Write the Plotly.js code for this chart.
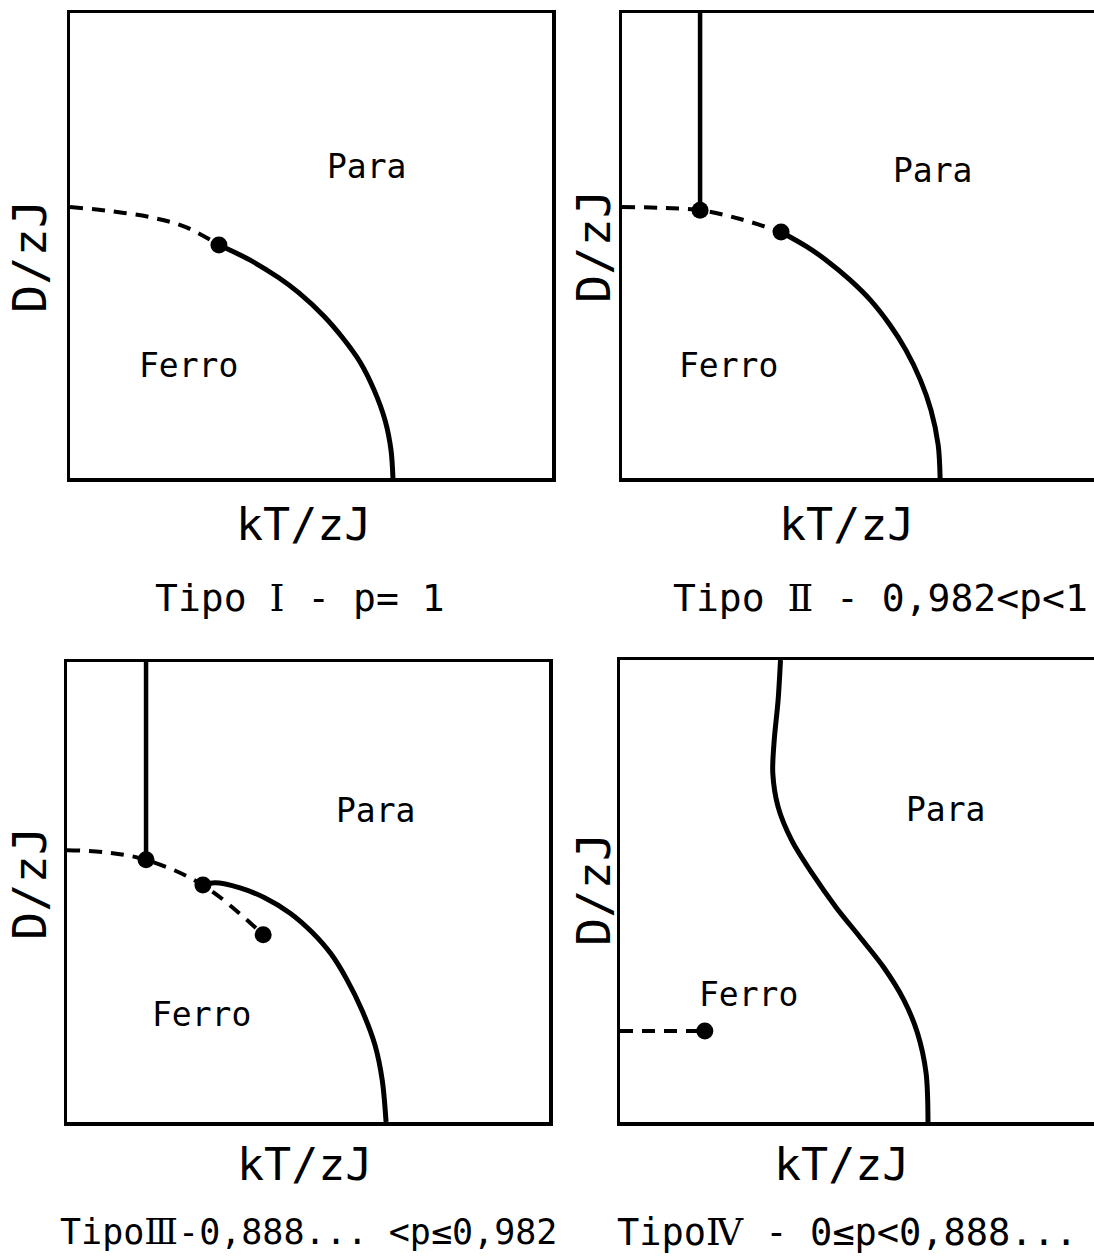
<!DOCTYPE html>
<html>
<head>
<meta charset="utf-8">
<script src="https://cdn.plot.ly/plotly-3.0.1.min.js"></script>
<style>
  html, body { margin: 0; padding: 0; background: #fff; }
  #chart { width: 1094px; height: 1260px; }
</style>
</head>
<body>
<div id="chart"></div>
<script>
// Phase diagrams in reduced units: x = kT/zJ, y = D/zJ (both scaled to the box, 0..1)

// Tipo I  (p = 1)
const t1DashX  = [0.000, 0.083, 0.166, 0.239, 0.309];
const t1DashY  = [0.583, 0.574, 0.561, 0.540, 0.501];
const t1SolidX = [0.309, 0.373, 0.434, 0.475, 0.527, 0.566, 0.602, 0.631, 0.654, 0.666, 0.670];
const t1SolidY = [0.501, 0.469, 0.430, 0.398, 0.348, 0.301, 0.249, 0.189, 0.123, 0.060, 0.000];
const t1PointX = [0.309];
const t1PointY = [0.501];

// Tipo II  (0,982 < p < 1)
const t2VertX  = [0.162, 0.162];
const t2VertY  = [1.000, 0.576];
const t2DashX  = [0.000, 0.079, 0.162, 0.245, 0.330];
const t2DashY  = [0.583, 0.581, 0.576, 0.557, 0.529];
const t2SolidX = [0.330, 0.384, 0.423, 0.473, 0.515, 0.556, 0.589, 0.619, 0.641, 0.656, 0.660];
const t2SolidY = [0.529, 0.497, 0.469, 0.426, 0.383, 0.329, 0.275, 0.211, 0.146, 0.071, 0.000];
const t2PointX = [0.162, 0.330];
const t2PointY = [0.576, 0.529];

// Tipo III  (0,888... < p <= 0,982)
const t3VertX  = [0.164, 0.164];
const t3VertY  = [1.000, 0.570];
const t3DashX  = [0.000, 0.080, 0.164, 0.282, 0.407];
const t3DashY  = [0.591, 0.586, 0.570, 0.515, 0.407];
const t3SolidX = [0.282, 0.307, 0.359, 0.411, 0.463, 0.508, 0.548, 0.581, 0.612, 0.639, 0.654, 0.662];
const t3SolidY = [0.515, 0.520, 0.509, 0.487, 0.454, 0.413, 0.365, 0.309, 0.243, 0.167, 0.091, 0.000];
const t3PointX = [0.164, 0.282, 0.407];
const t3PointY = [0.570, 0.515, 0.407];

// Tipo IV  (0 <= p < 0,888...)
const t4SolidX = [0.333, 0.328, 0.320, 0.317, 0.328, 0.356, 0.398, 0.448, 0.498, 0.547, 0.589, 0.617, 0.635, 0.639];
const t4SolidY = [1.000, 0.913, 0.827, 0.755, 0.682, 0.610, 0.539, 0.465, 0.400, 0.335, 0.264, 0.193, 0.106, 0.000];
const t4DashX  = [0.000, 0.176];
const t4DashY  = [0.197, 0.197];
const t4PointX = [0.176];
const t4PointY = [0.197];

// Text
const regionLabels = ['Para', 'Ferro'];
const xLabel = 'kT/zJ';
const yLabel = 'D/zJ';
const numerals = ['Ⅰ', 'Ⅱ', 'Ⅲ', 'Ⅳ'];
const conditions = [' - p= 1', ' - 0,982<p<1', '-0,888... <p≤0,982', ' - 0≤p<0,888...'];

const INK = '#000';
const MONO = 'DejaVu Sans Mono, monospace';
const SERIF = 'DejaVu Serif, serif';

function solid(x, y, ax, w) {
  return { x, y, xaxis: 'x' + ax, yaxis: 'y' + ax, mode: 'lines', hoverinfo: 'skip',
           line: { color: INK, width: w || 5, shape: 'spline', smoothing: 0.9 } };
}
function dashed(x, y, ax) {
  return { x, y, xaxis: 'x' + ax, yaxis: 'y' + ax, mode: 'lines', hoverinfo: 'skip',
           line: { color: INK, width: 4, dash: '13px,9px', shape: 'spline', smoothing: 1 } };
}
function points(x, y, ax) {
  return { x, y, xaxis: 'x' + ax, yaxis: 'y' + ax, mode: 'markers', hoverinfo: 'skip',
           marker: { color: INK, size: 17, line: { width: 0 } } };
}

const traces = [
  dashed(t1DashX, t1DashY, ''), solid(t1SolidX, t1SolidY, ''), points(t1PointX, t1PointY, ''),
  solid(t2VertX, t2VertY, '2', 4.5), dashed(t2DashX, t2DashY, '2'), solid(t2SolidX, t2SolidY, '2'), points(t2PointX, t2PointY, '2'),
  solid(t3VertX, t3VertY, '3', 4.5), dashed(t3DashX, t3DashY, '3'), solid(t3SolidX, t3SolidY, '3'), points(t3PointX, t3PointY, '3'),
  solid(t4SolidX, t4SolidY, '4'), dashed(t4DashX, t4DashY, '4'), points(t4PointX, t4PointY, '4')
];

const W = 1094, H = 1260;
const px = X => X / W;
const py = Y => 1 - Y / H;

function xAxis(l, r, range, anchor) {
  return { domain: [px(l), Math.min(1, px(r))], range, anchor, showline: true, linecolor: INK, linewidth: 3.5,
           mirror: true, showgrid: false, zeroline: false, showticklabels: false, ticks: '', fixedrange: true };
}
function yAxis(top, bottom, mirror, anchor) {
  return { domain: [py(bottom), py(top)], range: [0, 1], anchor, showline: true, linecolor: INK, linewidth: 3.5,
           mirror, showgrid: false, zeroline: false, showticklabels: false, ticks: '', fixedrange: true };
}

// region labels inside each box (data coordinates of that panel)
function region(text, x, y, ax) {
  return { text, x, y, xref: 'x' + ax, yref: 'y' + ax, showarrow: false,
           xanchor: 'center', yanchor: 'middle', font: { family: MONO, size: 33, color: INK } };
}
// page-level text in pixel positions
function label(text, X, Y, size, angle) {
  return { text, x: px(X), y: py(Y), xref: 'paper', yref: 'paper', showarrow: false,
           xanchor: 'center', yanchor: 'middle', textangle: angle || 0,
           font: { family: MONO, size, color: INK } };
}
// "Tipo" + serif roman numeral + condition; the lower row is set tighter
function typeLabel(i) {
  const sp = i >= 2 ? '' : ' ';
  return 'Tipo' + sp + '<span style="font-family:' + SERIF + '">' + numerals[i] + '</span>' + conditions[i];
}

const annotations = [
  region(regionLabels[0], 0.616, 0.669, ''),  region(regionLabels[1], 0.245, 0.241, ''),
  region(regionLabels[0], 0.645, 0.662, '2'), region(regionLabels[1], 0.220, 0.241, '2'),
  region(regionLabels[0], 0.639, 0.678, '3'), region(regionLabels[1], 0.278, 0.233, '3'),
  region(regionLabels[0], 0.676, 0.677, '4'), region(regionLabels[1], 0.266, 0.275, '4'),

  label(xLabel, 303, 524, 45), label(xLabel, 846, 524, 45),
  label(xLabel, 304, 1164, 45), label(xLabel, 841, 1164, 45),

  label(yLabel, 30, 257, 47, -90), label(yLabel, 594, 247, 47, -90),
  label(yLabel, 30, 884, 47, -90), label(yLabel, 593, 890, 47, -90),

  label(typeLabel(0), 300, 598, 38), label(typeLabel(1), 880, 598, 38),
  label(typeLabel(2), 308, 1232, 35), label(typeLabel(3), 847, 1232, 37)
];

const layout = {
  width: W, height: H,
  margin: { l: 0, r: 0, t: 0, b: 0 },
  paper_bgcolor: '#fff', plot_bgcolor: '#fff',
  showlegend: false,
  xaxis:  xAxis(70, 552, [0, 1], 'y'),
  yaxis:  yAxis(13, 478, true, 'x'),
  xaxis2: xAxis(622, 1104, [0, 472 / 482], 'y2'),
  yaxis2: yAxis(13, 478, false, 'x2'),
  xaxis3: xAxis(67, 549, [0, 1], 'y3'),
  yaxis3: yAxis(662, 1122, true, 'x3'),
  xaxis4: xAxis(620, 1102, [0, 474 / 482], 'y4'),
  yaxis4: yAxis(660, 1122, false, 'x4'),
  annotations
};

Plotly.newPlot('chart', traces, layout, { displayModeBar: false, staticPlot: true });
</script>
</body>
</html>
